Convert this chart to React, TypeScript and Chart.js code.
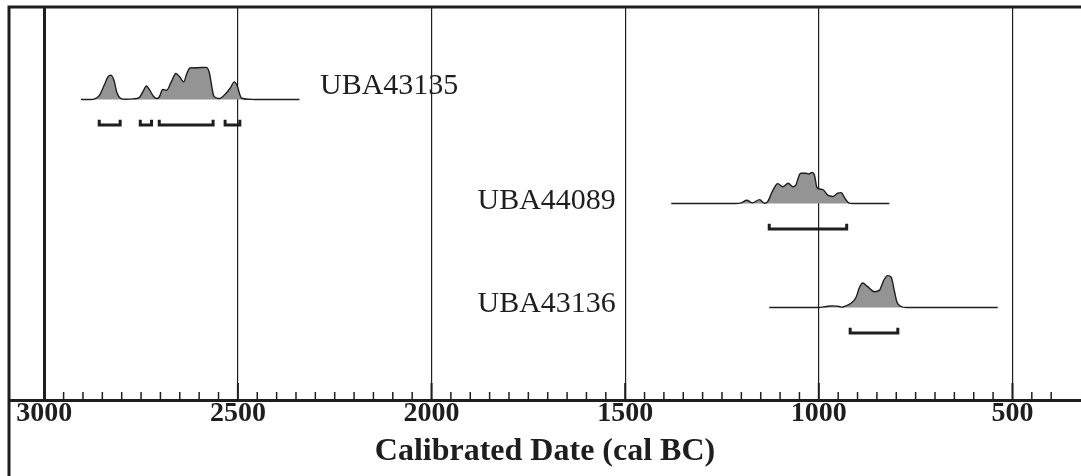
import React, { useEffect, useRef } from 'react';
import { Chart, registerables } from 'chart.js';

Chart.register(...registerables);

// ---- data (years cal BC, relative probability 0..1) ----
const sampleNames = ['UBA43135', 'UBA44089', 'UBA43136'];
const sampleRows = [3, 2, 1];

const years43135 = [2905, 2880, 2868, 2858, 2845, 2836, 2828, 2820, 2812, 2802, 2790, 2770, 2755, 2745, 2736, 2728, 2718, 2710, 2703, 2694, 2684, 2672, 2660, 2650, 2640, 2632, 2624, 2605, 2582, 2574, 2568, 2563, 2556, 2548, 2531, 2520, 2509, 2501, 2495, 2490, 2471, 2450, 2341];
const prob43135 = [0, 0, 0.03, 0.12, 0.45, 0.7, 0.76, 0.6, 0.2, 0.03, 0.01, 0.02, 0.06, 0.25, 0.42, 0.3, 0.1, 0.03, 0.08, 0.31, 0.29, 0.55, 0.81, 0.7, 0.55, 0.8, 0.98, 0.99, 1.0, 0.85, 0.45, 0.13, 0.05, 0.03, 0.19, 0.35, 0.55, 0.4, 0.15, 0.04, 0.01, 0, 0];

const years44089 = [1381, 1215, 1200, 1186, 1171, 1153, 1140, 1132, 1119, 1106, 1093, 1079, 1067, 1059, 1050, 1046, 1033, 1026, 1017, 1011, 1005, 998, 988, 977, 964, 951, 942, 934, 923, 912, 818];
const prob44089 = [0, 0, 0.02, 0.1, 0.02, 0.12, 0.01, 0.06, 0.4, 0.62, 0.52, 0.63, 0.52, 0.58, 0.9, 0.94, 0.94, 0.92, 0.97, 0.87, 0.5, 0.45, 0.42, 0.26, 0.22, 0.32, 0.34, 0.19, 0.02, 0, 0];

const years43136 = [1128, 1000, 981, 965, 947, 940, 934, 917, 904, 895, 887, 874, 856, 843, 833, 822, 813, 805, 798, 787, 775, 538];
const prob43136 = [0, 0, 0.03, 0.05, 0.03, 0.01, 0.03, 0.13, 0.31, 0.62, 0.76, 0.65, 0.49, 0.54, 0.83, 0.99, 0.94, 0.52, 0.16, 0.03, 0, 0];

const ranges43135 = [[2858, 2804], [2752, 2723], [2703, 2564], [2533, 2495]];
const ranges44089 = [[1128, 928]];
const ranges43136 = [[919, 796]];

const majorTicks = [3000, 2500, 2000, 1500, 1000, 500];

// label anchors in data coordinates [year, row value]
const labelAnchors = [[2288, 3.051], [1524, 1.949], [1524, 0.959]];
const labelAligns: CanvasTextAlign[] = ['left', 'right', 'right'];

// ---- styling constants ----
const PEAK = 0.309;
const RANGE_OFFSET = 0.245;
const RANGE_TICK = 0.05;
const INK = '#1e1e1e';
const FILL = '#949494';
const SERIF = "'Liberation Serif', 'Times New Roman', serif";

const distYears = [years43135, years44089, years43136];
const distProbs = [prob43135, prob44089, prob43136];
const distRanges = [ranges43135, ranges44089, ranges43136];

function buildDatasets() {
  const sets: any[] = [];
  distYears.forEach((yrs, i) => {
    const row = sampleRows[i];
    sets.push({
      label: sampleNames[i],
      data: yrs.map((x, j) => ({ x, y: row + distProbs[i][j] * PEAK })),
      borderColor: INK,
      borderWidth: 1.4,
      backgroundColor: FILL,
      fill: { value: row },
      pointRadius: 0,
      cubicInterpolationMode: 'monotone',
    });
  });
  distRanges.forEach((ranges, i) => {
    const row = sampleRows[i];
    const base = row - RANGE_OFFSET;
    const pts: any[] = [];
    ranges.forEach(([a, b]) => {
      pts.push({ x: a, y: base + RANGE_TICK });
      pts.push({ x: a, y: base });
      pts.push({ x: b, y: base });
      pts.push({ x: b, y: base + RANGE_TICK });
      pts.push({ x: b, y: null });
    });
    sets.push({
      label: sampleNames[i] + ' range',
      data: pts,
      borderColor: INK,
      borderWidth: 3,
      borderJoinStyle: 'miter',
      borderCapStyle: 'butt',
      fill: false,
      pointRadius: 0,
      tension: 0,
      spanGaps: false,
    });
  });
  return sets;
}

const framePlugin = {
  id: 'frame',
  afterDatasetsDraw(chart: any) {
    const { ctx, chartArea, scales } = chart;
    const xs = scales.x;
    const ys = scales.y;
    ctx.save();
    // inward tick marks
    ctx.strokeStyle = INK;
    xs.ticks.forEach((t: any) => {
      const v = t.value;
      if (v % 50 !== 0) return;
      const px = xs.getPixelForValue(v);
      const major = majorTicks.includes(v);
      ctx.lineWidth = major ? 2 : 1.5;
      ctx.beginPath();
      ctx.moveTo(px, chartArea.bottom);
      ctx.lineTo(px, chartArea.bottom - (major ? 17 : 8));
      ctx.stroke();
    });
    // sample labels
    ctx.fillStyle = INK;
    ctx.font = `30px ${SERIF}`;
    ctx.textBaseline = 'alphabetic';
    labelAnchors.forEach(([yr, rv], i) => {
      ctx.textAlign = labelAligns[i];
      ctx.fillText(sampleNames[i], xs.getPixelForValue(yr), ys.getPixelForValue(rv));
    });
    ctx.restore();
  },
  afterDraw(chart: any) {
    const { ctx, chartArea } = chart;
    ctx.save();
    ctx.strokeStyle = INK;
    ctx.lineWidth = 3;
    ctx.lineCap = 'butt';
    ctx.beginPath();
    ctx.moveTo(chartArea.left, chart.height);
    ctx.lineTo(chartArea.left, chartArea.top);
    ctx.lineTo(chart.width, chartArea.top);
    ctx.stroke();
    ctx.restore();
  },
};

export default function App() {
  const ref = useRef<HTMLCanvasElement>(null);
  useEffect(() => {
    if (!ref.current) return;
    const chart = new Chart(ref.current, {
      type: 'line',
      data: { datasets: buildDatasets() },
      options: {
        animation: false,
        responsive: false,
        devicePixelRatio: 1,
        layout: { padding: { left: 9, top: 7, right: 0, bottom: 0 } },
        plugins: { legend: { display: false }, tooltip: { enabled: false } },
        scales: {
          x: {
            type: 'linear',
            reverse: true,
            min: 323,
            max: 3091,
            ticks: {
              stepSize: 50,
              autoSkip: false,
              maxRotation: 0,
              padding: 0,
              color: INK,
              font: { family: SERIF, weight: 'bold', size: 28, lineHeight: 1 },
              callback: (v: any) => (majorTicks.includes(Number(v)) ? String(v) : ''),
            },
            grid: {
              drawTicks: false,
              color: (c: any) => (majorTicks.includes(c.tick?.value) ? INK : 'rgba(0,0,0,0)'),
              lineWidth: (c: any) => (c.tick?.value === 3000 ? 3 : 1.2),
            },
            border: { display: true, color: INK, width: 3 },
            title: {
              display: true,
              text: 'Calibrated Date (cal BC)',
              color: INK,
              font: { family: SERIF, weight: 'bold', size: 32, lineHeight: 1 },
              padding: { top: 8, bottom: 8 },
            },
          },
          y: {
            type: 'linear',
            display: false,
            min: 0.11,
            max: 3.89,
          },
        },
      } as any,
      plugins: [framePlugin],
    });
    return () => chart.destroy();
  }, []);
  return (
    <div style={{ position: 'fixed', left: 0, top: 0, width: 1081, height: 476, background: '#fff' }}>
      <canvas ref={ref} width={1081} height={476} style={{ display: 'block' }} />
    </div>
  );
}
